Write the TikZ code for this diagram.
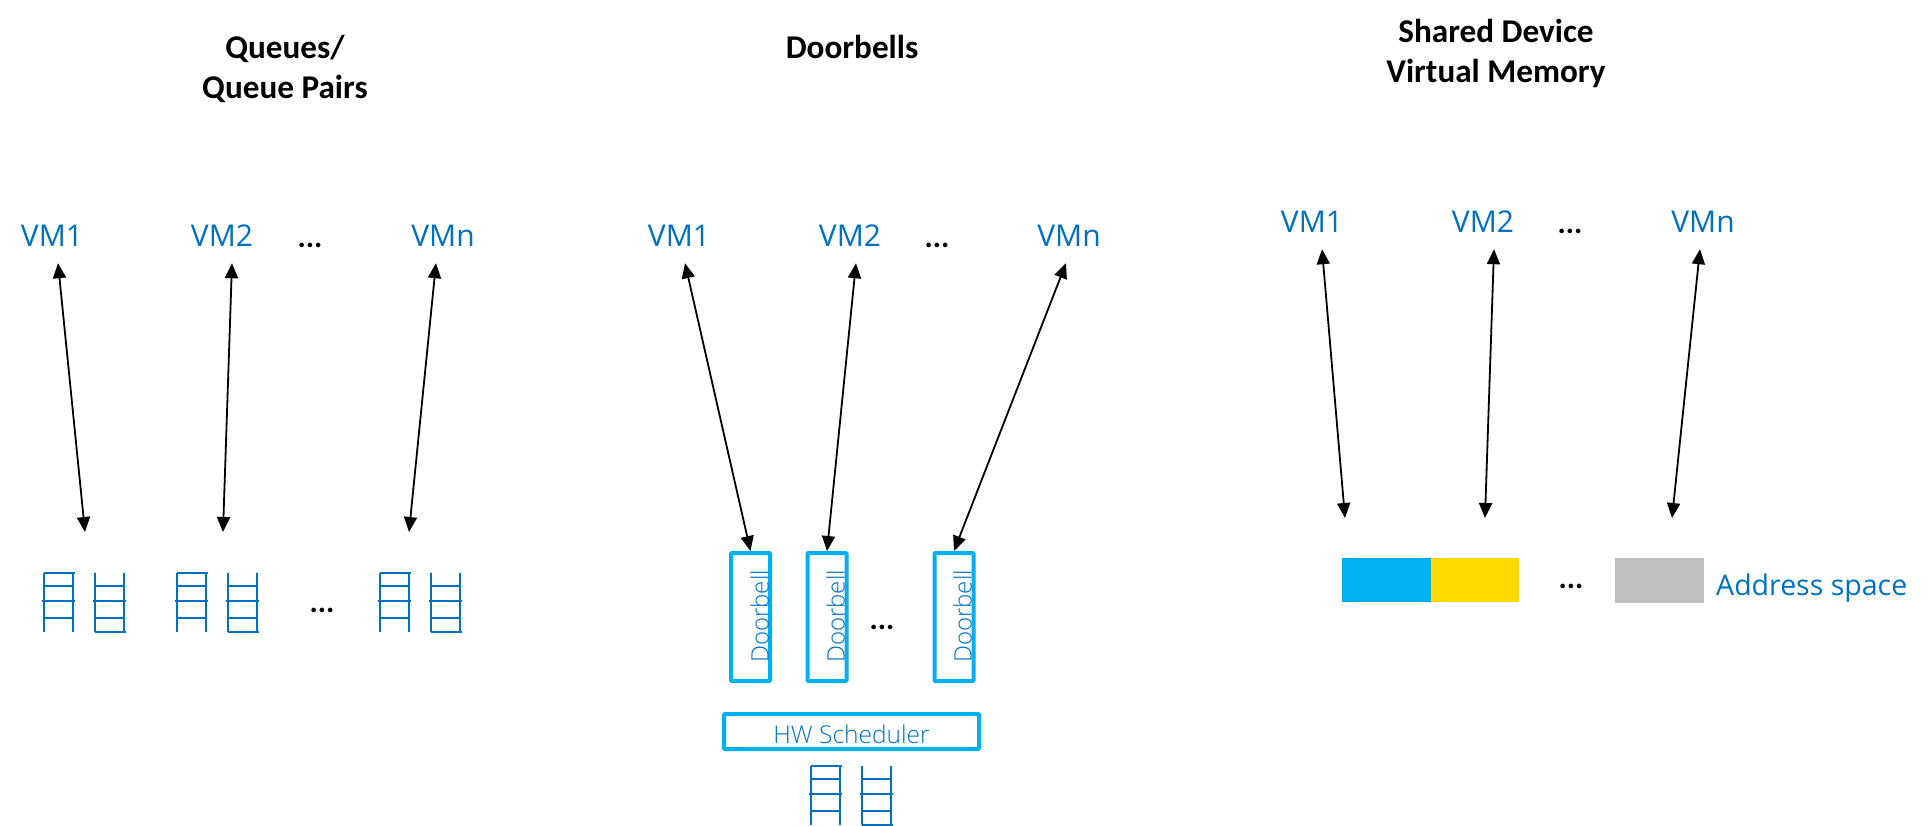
\documentclass[tikz,border=0pt]{standalone}
\usepackage{fontspec}
\setmainfont{Open Sans}
\newfontfamily\titlefont{Carlito}
\newfontfamily\lightfont{Open Sans Light}
\usetikzlibrary{arrows.meta}
\definecolor{vmblue}{HTML}{0070C0}
\definecolor{doorcyan}{HTML}{00B0F0}
\definecolor{addryellow}{HTML}{FFD900}
\definecolor{addrgray}{HTML}{BFBFBF}
\tikzset{
  title/.style={font=\titlefont\bfseries\fontsize{33.2}{40.5}\selectfont, align=center},
  vm/.style={text=vmblue, minimum height=54pt, inner sep=0pt, font=\fontsize{30}{34}\selectfont},
  dots/.style={anchor=base, font=\titlefont\bfseries\fontsize{31}{31}\selectfont},
  link/.style={{Triangle[length=15pt,width=13pt]}-{Triangle[length=15pt,width=13pt]}, line width=1.8pt},
  doorbell/.style={draw=doorcyan, line width=4pt, rounded corners=1pt, minimum width=39pt, minimum height=128pt, inner sep=0pt},
  doorlabel/.style={text=vmblue, rotate=90, anchor=south, inner sep=0pt, font=\lightfont\fontsize{24}{26}\selectfont},
  block/.style={minimum height=44pt, inner sep=0pt},
  queuepair/.pic={
    \draw[vmblue, line width=2pt]
      (0,0) -- (0,59) (29,0) -- (29,59) (51,0) -- (51,59) (80,0) -- (80,59)
      (0,0) -- (31,0) (0,13) -- (30,13) (-2,28) -- (31,28) (0,45) -- (30,45)
      (51,13) -- (81,13) (49,28) -- (82,28) (51,45) -- (81,45) (51,59) -- (82,59);
  }
}
\begin{document}
\begin{tikzpicture}[x=1pt, y=-1pt]
  \useasboundingbox (0,0) rectangle (1928,826);

  % queues
  \node[title] (qtitle) at (285,69) {Queues/\\Queue Pairs};
  \node[vm] (qvm1) at (52,236) {VM1};
  \node[vm] (qvm2) at (222,236) {VM2};
  \node[dots] (qdots) at (310,248) {...};
  \node[vm] (qvmn) at (443,236) {VMn};
  \coordinate (q1) at (85,532);
  \coordinate (q2) at (223,532);
  \coordinate (qn) at (409,532);
  \pic at (44,573) {queuepair};
  \pic at (177,573) {queuepair};
  \node[dots] (qdots2) at (322,612) {...};
  \pic at (380,573) {queuepair};
  \draw[link] ([xshift=6pt]qvm1.south) -- (q1);
  \draw[link] ([xshift=10pt]qvm2.south) -- (q2);
  \draw[link] ([xshift=-7pt]qvmn.south) -- (qn);

  % doorbells
  \node[title] (dtitle) at (852,47) {Doorbells};
  \node[vm] (dvm1) at (679,236) {VM1};
  \node[vm] (dvm2) at (850,236) {VM2};
  \node[dots] (ddots) at (937,248) {...};
  \node[vm] (dvmn) at (1069,236) {VMn};
  \node[doorbell] (door1) at (750.5,617) {};
  \node[doorbell] (door2) at (827,617) {};
  \node[dots] (ddots2) at (882,629) {...};
  \node[doorbell] (door3) at (954,617) {};
  \node[doorlabel] (label1) at (769,616.5) {Doorbell};
  \node[doorlabel] (label2) at (845,616.5) {Doorbell};
  \node[doorlabel] (label3) at (972,616.5) {Doorbell};
  \node[draw=doorcyan, line width=4pt, rounded corners=1pt, minimum width=255pt, minimum height=35pt, inner sep=0pt, text height=23pt, text depth=0pt, text=vmblue, font=\lightfont\fontsize{24.5}{26}\selectfont] (sched) at (851.5,731.5) {HW Scheduler};
  \pic at (811,766) {queuepair};
  \draw[link] ([xshift=6pt]dvm1.south) -- (door1.north);
  \draw[link] ([xshift=6pt]dvm2.south) -- (door2.north);
  \draw[link] ([xshift=-3pt]dvmn.south) -- (door3.north);

  % shared memory
  \node[title] (stitle) at (1496,53.5) {Shared Device\\Virtual Memory};
  \node[vm] (svm1) at (1312,222) {VM1};
  \node[vm] (svm2) at (1483,222) {VM2};
  \node[dots] (sdots) at (1570,234) {...};
  \node[vm] (svmn) at (1703,222) {VMn};
  \coordinate (s1) at (1345,518);
  \coordinate (s2) at (1485,518);
  \coordinate (sn) at (1672,518);
  \node[block, fill=doorcyan, minimum width=89pt] (addr1) at (1386.5,580) {};
  \node[block, fill=addryellow, minimum width=88pt] (addr2) at (1475,580) {};
  \node[dots] (sdots2) at (1571,588) {...};
  \node[block, fill=addrgray, minimum width=89pt, minimum height=45pt] (addrn) at (1659.5,580) {};
  \node[text=vmblue, font=\fontsize{28.5}{32}\selectfont, anchor=west, inner sep=0pt] (addrlabel) at (1716,588) {Address space};
  \draw[link] ([xshift=10pt]svm1.south) -- (s1);
  \draw[link] ([xshift=11pt]svm2.south) -- (s2);
  \draw[link] ([xshift=-3pt]svmn.south) -- (sn);
\end{tikzpicture}
\end{document}
